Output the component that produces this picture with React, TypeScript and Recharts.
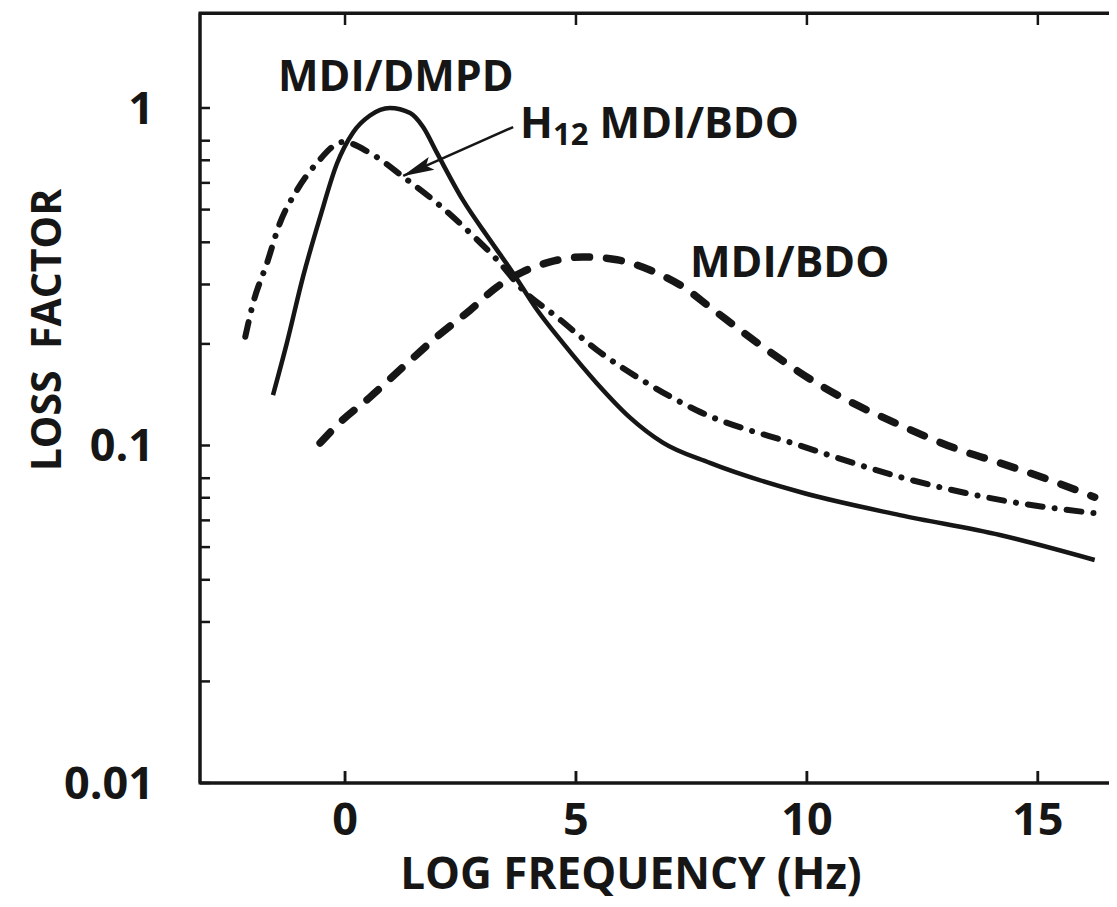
import React from "react"
import { LineChart, Line, XAxis, YAxis, ReferenceDot, ReferenceLine, ReferenceArea } from "recharts"

// log frequency (Hz) / loss factor
const dmpdX = [-1.56, -1.26, -0.91, -0.54, -0.17, 0.17, 0.54, 0.97, 1.41, 1.69, 1.99, 2.55, 3.14, 3.64, 4.16, 4.72, 5.45, 6.17, 6.88, 7.9, 9.85, 12.01, 14.18, 16.23]
const dmpdLoss = [0.141, 0.201, 0.316, 0.475, 0.687, 0.845, 0.95, 1.0, 0.966, 0.878, 0.736, 0.534, 0.406, 0.324, 0.252, 0.201, 0.153, 0.121, 0.102, 0.0888, 0.0728, 0.0622, 0.0543, 0.0458]

const h12X = [-2.16, -1.99, -1.69, -1.41, -1.04, -0.61, -0.04, 0.54, 1.26, 1.99, 2.71, 3.29, 3.85, 4.59, 5.45, 6.54, 7.62, 9.85, 12.01, 14.18, 16.23]
const h12Loss = [0.21, 0.264, 0.347, 0.456, 0.571, 0.687, 0.793, 0.736, 0.625, 0.523, 0.426, 0.355, 0.289, 0.24, 0.192, 0.153, 0.127, 0.1, 0.0807, 0.069, 0.063]

const bdoX = [-0.54, -0.11, 0.54, 1.26, 1.99, 2.71, 3.29, 3.85, 4.44, 5.15, 5.89, 6.6, 7.32, 7.9, 8.98, 10.28, 12.01, 13.31, 14.18, 15.26, 16.23]
const bdoLoss = [0.1017, 0.117, 0.139, 0.171, 0.21, 0.252, 0.295, 0.327, 0.35, 0.362, 0.355, 0.331, 0.295, 0.257, 0.199, 0.151, 0.115, 0.097, 0.0888, 0.079, 0.0703]

const xTicks = [0, 5, 10, 15]
const yTicks = [0.01, 0.02, 0.03, 0.04, 0.05, 0.06, 0.07, 0.08, 0.09, 0.1, 0.2, 0.3, 0.4, 0.5, 0.6, 0.7, 0.8, 0.9, 1]
const yLabelled = [0.01, 0.1, 1]

const xDomain = [-3.14, 16.8]
const yDomain = [0.01, 1.912]

// curve labels: [text, log freq, loss factor] at the text's start/baseline
const curveLabels: [string, number, number][] = [
  ["MDI/DMPD", -1.45, 1.123],
  ["MDI/BDO", 7.47, 0.3157],
]
const h12Label = { x: 3.79, y: 0.815 }
const arrowFrom = { x: 3.64, y: 0.878 }
const arrowTo = { x: 1.26, y: 0.629 }

const INK = "#161616"
const FONT = "'Open Sans', 'DejaVu Sans', sans-serif"

const CHART_W = 1113
const CHART_H = 899
const PLOT_LEFT = 192
const PLOT_TOP = 5

const toPoints = (xs: number[], ys: number[]) => xs.map((x, i) => ({ x, loss: ys[i] }))
const dmpdData = toPoints(dmpdX, dmpdLoss)
const h12Data = toPoints(h12X, h12Loss)
const bdoData = toPoints(bdoX, bdoLoss)

const tickStyle = { fontSize: 45, fontWeight: 700, fill: INK, fontFamily: FONT }
const frame = { stroke: INK, strokeWidth: 3 }
const tickMark = { stroke: INK, strokeWidth: 2.5 }

// inward tick marks drawn at a reference point
const downTick = (p: any) => <line x1={p.cx} x2={p.cx} y1={p.cy} y2={p.cy + 12} stroke={INK} strokeWidth={2.5} />
const upTick = (p: any) => <line x1={p.cx} x2={p.cx} y1={p.cy} y2={p.cy - 12} stroke={INK} strokeWidth={2.5} />
const leftTick = (p: any) => <line x1={p.cx - 12} x2={p.cx} y1={p.cy} y2={p.cy} stroke={INK} strokeWidth={2.5} />

// top edge of the frame as a plain overlay, ticks placed by fraction of the x domain
const plotWidth = CHART_W - PLOT_LEFT
const topTickLeft = (t: number) => PLOT_LEFT + ((t - xDomain[0]) / (xDomain[1] - xDomain[0])) * plotWidth

export default function App() {
  return (
    <div style={{ position: "relative", width: 1109, height: CHART_H, overflow: "hidden", background: "#fff" }}>
      <svg width="0" height="0" style={{ position: "absolute" }}>
        <defs>
          <marker id="arrowHead" markerWidth="32" markerHeight="16" refX="31" refY="8" orient="auto" markerUnits="userSpaceOnUse">
            <path d="M0,1 L32,8 L0,15 L6,8 z" fill={INK} />
          </marker>
        </defs>
      </svg>
      <LineChart
        width={CHART_W}
        height={CHART_H}
        margin={{ top: PLOT_TOP, right: 0, bottom: 0, left: 0 }}
        style={{ fontFamily: FONT }}
      >
        <XAxis
          type="number"
          dataKey="x"
          domain={xDomain}
          allowDataOverflow
          ticks={xTicks}
          height={124}
          tickSize={-12}
          tickMargin={32}
          tick={tickStyle}
          axisLine={frame}
          tickLine={tickMark}
          label={{
            content: () => (
              <text x={623} y={881} textAnchor="middle" fontSize={44} fontWeight={700} fill={INK} fontFamily={FONT}>
                LOG FREQUENCY (Hz)
              </text>
            ),
          }}
        />
        <YAxis
          type="number"
          scale="log"
          domain={yDomain}
          allowDataOverflow
          ticks={yTicks}
          width={PLOT_LEFT}
          tickSize={-10}
          tickMargin={56}
          tick={tickStyle}
          tickFormatter={(v: number) => (yLabelled.includes(v) ? String(v) : "")}
          axisLine={frame}
          tickLine={tickMark}
          label={{
            content: () => (
              <text
                x={53}
                y={322}
                transform="rotate(-90, 53, 322)"
                textAnchor="middle"
                fontSize={41}
                fontWeight={700}
                fill={INK}
                fontFamily={FONT}
              >
                {"LOSS\u00a0\u00a0FACTOR"}
              </text>
            ),
          }}
        />

        {/* plot frame with mirrored ticks on the top and right edges */}
        <ReferenceArea
          x1={xDomain[0]}
          x2={xDomain[1]}
          y1={yDomain[0]}
          y2={yDomain[1]}
          ifOverflow="visible"
          fill="none"
          fillOpacity={0}
          stroke={INK}
          strokeWidth={3}
        />
        {xTicks.map((t) => (
          <ReferenceDot key={`tt-${t}`} x={t} y={yDomain[1]} r={0} ifOverflow="visible" shape={downTick} />
        ))}
        {xTicks.map((t) => (
          <ReferenceDot key={`bt-${t}`} x={t} y={yDomain[0]} r={0} ifOverflow="visible" shape={upTick} />
        ))}
        {yTicks.map((t) => (
          <ReferenceDot key={`rt-${t}`} x={xDomain[1]} y={t} r={0} ifOverflow="visible" shape={leftTick} />
        ))}

        <Line
          data={dmpdData}
          dataKey="loss"
          type="monotone"
          stroke={INK}
          strokeWidth={4.5}
          dot={false}
          activeDot={false}
          isAnimationActive={false}
        />
        <Line
          data={h12Data}
          dataKey="loss"
          type="monotone"
          stroke={INK}
          strokeWidth={6}
          strokeLinecap="round"
          strokeDasharray="15 12 0.1 12"
          dot={false}
          activeDot={false}
          isAnimationActive={false}
        />
        <Line
          data={bdoData}
          dataKey="loss"
          type="monotone"
          stroke={INK}
          strokeWidth={7.5}
          strokeLinecap="round"
          strokeDasharray="15 17"
          dot={false}
          activeDot={false}
          isAnimationActive={false}
        />

        <ReferenceLine
          segment={[arrowFrom, arrowTo]}
          stroke={INK}
          strokeWidth={2.5}
          shape={(p: any) => (
            <line x1={p.x1} y1={p.y1} x2={p.x2} y2={p.y2} stroke={INK} strokeWidth={2.5} markerEnd="url(#arrowHead)" />
          )}
        />
        {curveLabels.map(([text, x, y]) => (
          <ReferenceDot
            key={text}
            x={x}
            y={y}
            r={0}
            shape={(p: any) => (
              <text x={p.cx} y={p.cy} fontSize={43} fontWeight={700} fill={INK} fontFamily={FONT}>
                {text}
              </text>
            )}
          />
        ))}
        <ReferenceDot
          x={h12Label.x}
          y={h12Label.y}
          r={0}
          shape={(p: any) => (
            <text x={p.cx} y={p.cy} fontSize={43} fontWeight={700} fill={INK} fontFamily={FONT}>
              H
              <tspan fontSize={31} dy={7}>12</tspan>
              <tspan dy={-7}>{"\u00a0MDI/BDO"}</tspan>
            </text>
          )}
        />
      </LineChart>
      <div
        style={{
          position: "absolute",
          left: PLOT_LEFT - 1.5,
          top: PLOT_TOP - 1.5,
          width: plotWidth + 3,
          height: 3,
          background: INK,
          pointerEvents: "none",
        }}
      />
      {xTicks.map((t) => (
        <div
          key={`ot-${t}`}
          style={{
            position: "absolute",
            left: topTickLeft(t) - 1.25,
            top: PLOT_TOP,
            width: 2.5,
            height: 12,
            background: INK,
            pointerEvents: "none",
          }}
        />
      ))}
    </div>
  )
}
